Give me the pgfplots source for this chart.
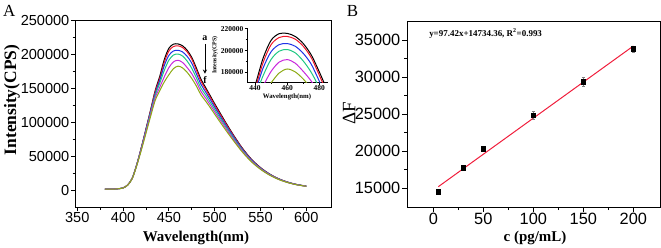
\documentclass[border=0pt]{standalone}
\usepackage{fontspec}
\setmainfont{Liberation Serif}
\newfontfamily\arial{Liberation Sans}
\usepackage{pgfplots}
\usepackage{pgfplotstable}
\pgfplotsset{compat=1.18}

\definecolor{cA}{RGB}{0,0,0}
\definecolor{cB}{RGB}{240,20,40}
\definecolor{cC}{RGB}{30,50,230}
\definecolor{cD}{RGB}{30,200,130}
\definecolor{cE}{RGB}{200,40,220}
\definecolor{cF}{RGB}{140,170,20}
\definecolor{fitred}{RGB}{240,30,60}

\pgfplotstableread{
wl a b c d e f
380 2300 2200 2400 2300 2200 2300
390 2500 2500 2500 2400 2500 2400
395 3000 3000 3000 2950 2950 2900
400 4200 4200 4100 4100 4000 4000
405 8500 8500 8400 8400 8300 8200
410 18500 18400 18300 18200 18000 17800
415 39000 38800 38500 38200 37800 37200
420 64000 63700 63000 62400 61400 60000
425 91000 90500 89500 88400 86800 84500
430 118500 117600 116000 114500 112000 109000
435 147000 145500 142500 140000 136500 132500
440 168000 165000 162000 158000 152000 147000
445 193000 189000 184000 177000 167500 160000
450 209500 205500 199000 192000 181000 170500
455 215500 212000 205500 199500 189500 179500
460 215800 213000 206500 201000 191800 183200
465 213000 210500 204000 198000 188500 180500
470 206500 204000 197500 190500 181000 174000
475 196000 193500 187500 180000 172000 165000
480 180500 177500 172000 166000 160000 154000
485 164000 161000 156500 151000 146000 141000
490 152000 149500 145500 141000 136500 132000
495 140000 137800 134500 130500 126500 122500
500 128000 126000 123000 119500 116000 112500
510 105000 103500 101000 98500 96000 93000
520 83000 82000 80500 78500 76500 74500
530 63000 62300 61300 60000 58700 57200
540 46500 46000 45300 44500 43600 42600
550 34000 33700 33200 32700 32100 31400
560 24500 24300 24000 23700 23300 22800
570 17500 17400 17200 17000 16700 16400
580 12500 12400 12300 12200 12000 11800
590 9000 8950 8900 8800 8700 8600
600 6800 6750 6700 6650 6600 6500
}\spectra

\pgfplotstableread{
x y err
5 14540 250
30 17780 250
50 20340 300
100 24890 500
150 29430 600
200 33830 400
}\calib

\pgfplotsset{
  myax/.style={
    scale only axis,
    anchor=south west,
    axis line style={line width=0.9bp},
    tick align=outside,
    tick pos=left,
    every tick/.style={black, line width=0.8bp},
    scaled ticks=false,
    /pgf/number format/fixed,
    /pgf/number format/1000 sep={},
    /pgf/number format/assume math mode=true,
    minor x tick num=1,
    minor y tick num=1,
  }
}

\begin{document}
\begin{tikzpicture}[x=1bp,y=1bp]
\path[use as bounding box] (0,0) rectangle (661,247);

% Panel A
\begin{axis}[myax,
  at={(75bp,39.7bp)}, width=256bp, height=186.6bp,
  xmin=347.5, xmax=627, ymin=-24400, ymax=250000,
  xtick={350,400,...,600}, ytick={0,50000,...,250000},
  major tick length=4bp, minor tick length=2.5bp,
  ticklabel style={font=\arial\fontsize{14.6}{15}\selectfont},
  xticklabel style={inner sep=1bp},
  yticklabel style={inner sep=1.5bp},
]
\addplot[cA, line width=1bp, smooth] table[x=wl,y=a] {\spectra};
\addplot[cB, line width=1bp, smooth] table[x=wl,y=b] {\spectra};
\addplot[cC, line width=1bp, smooth] table[x=wl,y=c] {\spectra};
\addplot[cD, line width=1bp, smooth] table[x=wl,y=d] {\spectra};
\addplot[cE, line width=1bp, smooth] table[x=wl,y=e] {\spectra};
\addplot[cF, line width=1bp, smooth] table[x=wl,y=f] {\spectra};
\node[font=\bfseries\fontsize{10}{10}\selectfont] at (axis cs:489.4,224500) {a};
\node[font=\bfseries\fontsize{10}{10}\selectfont] at (axis cs:489.4,163500) {f};
\draw[-stealth, line width=0.9bp] (axis cs:489.4,216000) -- (axis cs:489.4,172000);
\end{axis}

% Inset
\begin{axis}[
  scale only axis, anchor=south west,
  at={(247bp,164.7bp)}, width=81bp, height=54.6bp,
  xmin=435, xmax=485.4, ymin=171000, ymax=221000,
  axis x line*=bottom, axis y line*=left,
  axis line style={line width=0.8bp},
  tick align=outside,
  every tick/.style={black, line width=0.6bp},
  major tick length=2.5bp, minor tick length=1.5bp,
  minor x tick num=1, minor y tick num=1,
  scaled ticks=false,
  /pgf/number format/fixed,
  /pgf/number format/1000 sep={},
  /pgf/number format/assume math mode=true,
  xtick={440,460,480}, ytick={180000,200000,220000},
  ticklabel style={font=\bfseries\fontsize{7.5}{8}\selectfont, inner sep=1bp},
]
\addplot[cA, line width=1bp, smooth, restrict x to domain=425:495] table[x=wl,y=a] {\spectra};
\addplot[cB, line width=1bp, smooth, restrict x to domain=425:495] table[x=wl,y=b] {\spectra};
\addplot[cC, line width=1bp, smooth, restrict x to domain=425:495] table[x=wl,y=c] {\spectra};
\addplot[cD, line width=1bp, smooth, restrict x to domain=425:495] table[x=wl,y=d] {\spectra};
\addplot[cE, line width=1bp, smooth, restrict x to domain=425:495] table[x=wl,y=e] {\spectra};
\addplot[cF, line width=1bp, smooth, restrict x to domain=425:495] table[x=wl,y=f] {\spectra};
\end{axis}

% Panel B
\begin{axis}[myax,
  at={(407bp,40bp)}, width=253bp, height=186bp,
  xmin=-26.3, xmax=226.7, ymin=12480, ymax=37600,
  xtick={0,50,...,200}, ytick={15000,20000,...,35000},
  major tick length=5bp, minor tick length=3bp,
  ticklabel style={font=\arial\fontsize{16.4}{17}\selectfont},
  xticklabel style={inner sep=1bp},
  yticklabel style={inner sep=1.5bp},
]
\addplot[fitred, line width=1bp] coordinates {(5,15221.5) (200,34218.4)};
\addplot[black, only marks, mark=square*, mark size=2.3bp,
  error bars/.cd, y dir=both, y explicit,
  error bar style={gray, line width=0.6bp},
  error mark options={rotate=90, mark size=1.6bp, gray, line width=0.6bp}]
  table[x=x,y=y,y error=err] {\calib};
\node[anchor=west, font=\bfseries\fontsize{9}{9}\selectfont] at (rel axis cs:0.074,0.934) {y=97.42x+14734.36, R\textsuperscript{2}=0.993};
\end{axis}

% Axis titles
\node[font=\bfseries\fontsize{15}{15}\selectfont] at (196,9) {Wavelength(nm)};
\node[font=\bfseries\fontsize{17.5}{17.5}\selectfont, rotate=90] at (12,147) {Intensity(CPS)};
\node[font=\bfseries\fontsize{6.8}{7}\selectfont] at (287,150.5) {Wavelength(nm)};
\node[font=\bfseries\fontsize{6}{6}\selectfont, rotate=90] at (215,192) {Intensity(CPS)};
\node[font=\bfseries\fontsize{15}{15}\selectfont] at (535,9) {c (pg/mL)};
\node[font=\fontsize{19}{19}\selectfont, rotate=90] at (349,133.7) {ΔF};

\node[font=\fontsize{17}{17}\selectfont] at (9.2,235.8) {A};
\node[font=\fontsize{17}{17}\selectfont] at (352.5,236.2) {B};
\end{tikzpicture}
\end{document}
